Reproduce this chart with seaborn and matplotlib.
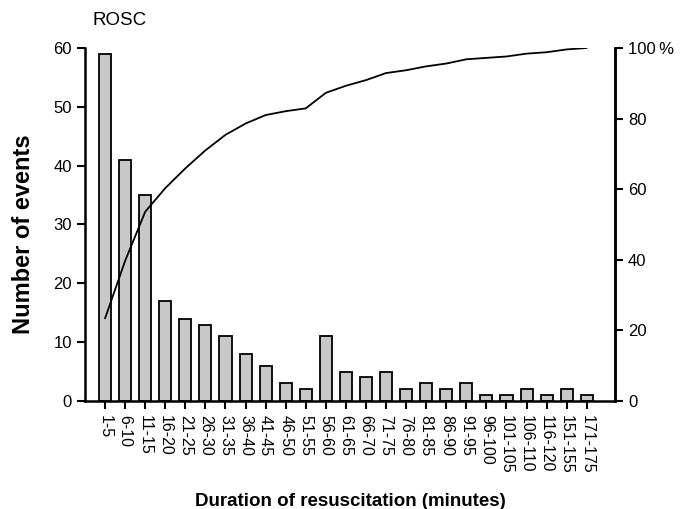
import matplotlib
matplotlib.use("Agg")
import matplotlib.pyplot as plt
import seaborn as sns
import numpy as np
import pandas as pd

durations = ['1-5', '6-10', '11-15', '16-20', '21-25', '26-30', '31-35', '36-40',
             '41-45', '46-50', '51-55', '56-60', '61-65', '66-70', '71-75', '76-80',
             '81-85', '86-90', '91-95', '96-100', '101-105', '106-110', '116-120',
             '151-155', '171-175']
events = [59, 41, 35, 17, 14, 13, 11, 8, 6, 3, 2, 11, 5, 4, 5, 2, 3, 2, 3, 1, 1, 2, 1, 2, 1]
cum_pct = [23.4, 39.7, 53.6, 60.3, 65.9, 71.0, 75.4, 78.6, 81.0, 82.1, 82.9, 87.3, 89.3,
           90.9, 92.9, 93.7, 94.8, 95.6, 96.8, 97.2, 97.6, 98.4, 98.8, 99.6, 100.0]
right_labels = ['0', '20', '40', '60', '80', '100\u2009%']

sns.set_style("ticks")
plt.rcParams['font.family'] = ['Liberation Sans', 'DejaVu Sans']
plt.rcParams['text.color'] = 'black'
plt.rcParams['axes.labelcolor'] = 'black'
plt.rcParams['xtick.color'] = 'black'
plt.rcParams['ytick.color'] = 'black'
plt.rcParams['axes.edgecolor'] = 'black'

df = pd.DataFrame({'duration': durations, 'events': events, 'cum': cum_pct})

fig = plt.figure(figsize=(6.87, 5.09), dpi=100)
ax = fig.add_axes([0.1237, 0.2122, 0.7713, 0.6935])

sns.barplot(data=df, x='duration', y='events', color='#c8c8c8', edgecolor='black',
            linewidth=1.3, width=0.6, saturation=1, ax=ax)
ax.set_xlim(-1.0, len(durations) + 0.4)
ax.set_ylim(0, 60)
ax.set_yticks([0, 10, 20, 30, 40, 50, 60])
ax.tick_params(axis='y', labelsize=12, width=1.5, length=6, direction='out')
ax.tick_params(axis='x', labelsize=11.5, width=1.5, length=6, direction='out', pad=4)
plt.setp(ax.get_xticklabels(), rotation=270, va='top', ha='center')
ax.set_ylabel('')
ax.set_xlabel('Duration of resuscitation (minutes)', fontsize=13.5, fontweight='bold', labelpad=14)
for s in ['left', 'bottom', 'right']:
    ax.spines[s].set_linewidth(1.8)
ax.spines['top'].set_visible(False)

ax2 = ax.twinx()
sns.lineplot(x=np.arange(len(durations)), y=df['cum'], color='black', linewidth=1.3, ax=ax2)
ax2.set_ylim(0, 100)
ax2.set_yticks([0, 20, 40, 60, 80, 100])
ax2.set_yticklabels(right_labels)
ax2.set_ylabel('')
ax2.tick_params(axis='y', labelsize=12, width=1.5, length=6, direction='out')
ax2.spines['right'].set_linewidth(1.8)
ax2.spines['top'].set_visible(False)
ax2.spines['left'].set_visible(False)
ax2.spines['bottom'].set_visible(False)

fig.text(0.034, 0.54, 'Number of events', fontsize=17, fontweight='bold',
         rotation=90, ha='center', va='center')
fig.text(0.134, 0.96, 'ROSC', fontsize=13.5, ha='left', va='center')

fig.savefig('out.png', dpi=100)
